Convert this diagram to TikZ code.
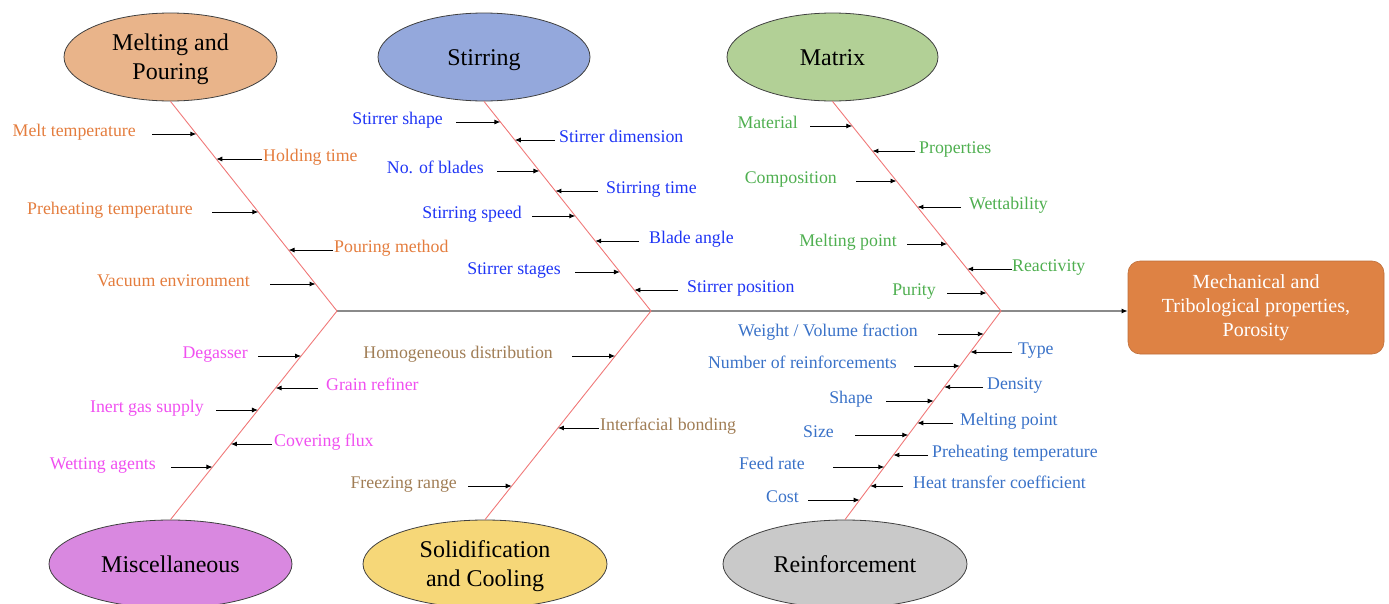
\documentclass[tikz,border=0pt]{standalone}
\usepackage{fontspec}
\setmainfont{Liberation Serif}
\usetikzlibrary{shapes.geometric,arrows.meta,calc}
\definecolor{cM}{HTML}{E47D3E}
\definecolor{cS}{HTML}{1F35F5}
\definecolor{cG}{HTML}{4FAF50}
\definecolor{cP}{HTML}{F050F0}
\definecolor{cB}{HTML}{A07D55}
\definecolor{cR}{HTML}{3A72C8}
\definecolor{fM}{HTML}{E9B48A}
\definecolor{fS}{HTML}{94A8DC}
\definecolor{fG}{HTML}{B2D096}
\definecolor{fP}{HTML}{D988E0}
\definecolor{fB}{HTML}{F6D778}
\definecolor{fR}{HTML}{C9C9C9}
\definecolor{fBox}{HTML}{DE8244}
\definecolor{boneC}{HTML}{F07878}
\definecolor{spineC}{HTML}{8A8A8A}
\tikzset{
  lab/.style={font=\fontsize{17.8}{20}\selectfont,inner sep=0pt,text height=4pt,text depth=0pt},
  arr/.style={black,line width=0.9pt,-{Latex[length=6pt,width=5pt]}},
  bone/.style={boneC,line width=0.9pt},
  cat/.style={ellipse,draw=black!75,line width=0.8pt,inner sep=0pt,align=center,
    font=\fontsize{24}{29}\selectfont,minimum height=88pt},
  one/.style={text height=16pt,text depth=0pt},
}
\newcommand\lab[8]{%
  \node[lab,text=#2,anchor=#3] (#1) at (#6,#5) {#4};
  \coordinate (#1t) at (#7,#5);
  \path let \p1=(#8s), \p2=(#8e), \p3=(#1t) in
    coordinate (#1b) at ({\x1+(\x2-\x1)/(\y2-\y1)*(\y3-\y1)},\y3);
  \draw[arr] (#1t) -- (#1b);}
\begin{document}
\begin{tikzpicture}[x=1pt,y=-1pt]
\useasboundingbox (0,0) rectangle (1389,603);
% category ellipses
\node[cat,fill=fM,minimum width=213pt] (melt) at (170.5,57) {\rule{0pt}{22pt}Melting and\\Pouring};
\node[cat,one,fill=fS,minimum width=212pt] (stir) at (484,57) {Stirring};
\node[cat,one,fill=fG,minimum width=211pt] (matr) at (832.5,57) {Matrix};
\node[cat,one,fill=fP,minimum width=243pt] (misc) at (170.5,564) {Miscellaneous};
\node[cat,fill=fB,minimum width=244pt] (soli) at (485,564) {\rule{0pt}{22pt}Solidification\\and Cooling};
\node[cat,one,fill=fR,minimum width=244pt] (rein) at (845,564) {Reinforcement};
% effect box
\node[draw=fBox!85!black,line width=0.6pt,fill=fBox,rounded corners=12pt,minimum width=256pt,
  minimum height=93pt,align=center,text=white,font=\fontsize{20}{24}\selectfont,inner sep=0pt]
  (box) at (1256,307.5) {Mechanical and\\Tribological properties,\\Porosity};
% vertices
\coordinate (v1) at (337,311);
\coordinate (v2) at (651,311);
\coordinate (v3) at (1001,311);
% spine
\draw[spineC,line width=1.4pt] (v1) -- (v3);
\draw[spineC,line width=1.4pt,-{Latex[length=6pt,width=5pt,black]}] (v3) -- (v3 -| box.west);
% bones
\coordinate (bAs) at (melt.south); \coordinate (bAe) at (v1);
\coordinate (bBs) at (stir.south); \coordinate (bBe) at (v2);
\coordinate (bCs) at (matr.south); \coordinate (bCe) at (v3);
\coordinate (bDs) at (v1); \coordinate (bDe) at (misc.north);
\coordinate (bEs) at (v2); \coordinate (bEe) at (soli.north);
\coordinate (bFs) at (v3); \coordinate (bFe) at (rein.north);
\draw[bone] (melt.south) -- (v1) -- (misc.north);
\draw[bone] (stir.south) -- (v2) -- (soli.north);
\draw[bone] (matr.south) -- (v3) -- (rein.north);
% Melting and Pouring
\lab{m1}{cM}{east}{Melt temperature}{134}{136}{152}{bA}
\lab{m2}{cM}{west}{Holding time}{159}{263}{262}{bA}
\lab{m3}{cM}{east}{Preheating temperature}{212}{193}{212}{bA}
\lab{m4}{cM}{west}{Pouring method}{250}{334}{333}{bA}
\lab{m5}{cM}{east}{Vacuum environment}{284}{250}{270}{bA}
% Stirring
\lab{s1}{cS}{east}{Stirrer shape}{122}{443}{456}{bB}
\lab{s2}{cS}{west}{Stirrer dimension}{140}{559}{555}{bB}
\lab{s3}{cS}{east}{No. of blades}{171}{484}{497}{bB}
\lab{s4}{cS}{west}{Stirring time}{191}{606}{598}{bB}
\lab{s5}{cS}{east}{Stirring speed}{216}{522}{532}{bB}
\lab{s6}{cS}{west}{Blade angle}{241}{649}{639}{bB}
\lab{s7}{cS}{east}{Stirrer stages}{272}{561}{575}{bB}
\lab{s8}{cS}{west}{Stirrer position}{290}{687}{678}{bB}
% Matrix
\lab{g1}{cG}{east}{Material}{126}{798}{810}{bC}
\lab{g2}{cG}{west}{Properties}{151}{919}{915}{bC}
\lab{g3}{cG}{east}{Composition}{181}{837}{856}{bC}
\lab{g4}{cG}{west}{Wettability}{207}{969}{961}{bC}
\lab{g5}{cG}{east}{Melting point}{244}{897}{907}{bC}
\lab{g6}{cG}{west}{Reactivity}{269}{1012}{1012}{bC}
\lab{g7}{cG}{east}{Purity}{293}{936}{947}{bC}
% Miscellaneous
\lab{p1}{cP}{east}{Degasser}{356}{248}{258}{bD}
\lab{p2}{cP}{west}{Grain refiner}{388}{326}{318}{bD}
\lab{p3}{cP}{east}{Inert gas supply}{410}{204}{216}{bD}
\lab{p4}{cP}{west}{Covering flux}{444}{274}{272}{bD}
\lab{p5}{cP}{east}{Wetting agents}{467}{156}{171}{bD}
% Solidification and Cooling
\lab{o1}{cB}{east}{Homogeneous distribution}{356}{553}{572}{bE}
\lab{o2}{cB}{west}{Interfacial bonding}{428}{600}{599}{bE}
\lab{o3}{cB}{east}{Freezing range}{486}{457}{468}{bE}
% Reinforcement
\lab{r1}{cR}{east}{Weight / Volume fraction}{334}{918}{938}{bF}
\lab{r2}{cR}{west}{Type}{352}{1018}{1012}{bF}
\lab{r3}{cR}{east}{Number of reinforcements}{366}{897}{914}{bF}
\lab{r4}{cR}{west}{Density}{387}{987}{983}{bF}
\lab{r5}{cR}{east}{Shape}{401}{873}{886}{bF}
\lab{r6}{cR}{west}{Melting point}{423}{960}{953}{bF}
\lab{r7}{cR}{east}{Size}{435}{834}{855}{bF}
\lab{r8}{cR}{west}{Preheating temperature}{455}{932}{928}{bF}
\lab{r9}{cR}{east}{Feed rate}{467}{805}{833}{bF}
\lab{r10}{cR}{west}{Heat transfer coefficient}{486}{913}{903}{bF}
\lab{r11}{cR}{east}{Cost}{500}{799}{808}{bF}
\end{tikzpicture}
\end{document}
